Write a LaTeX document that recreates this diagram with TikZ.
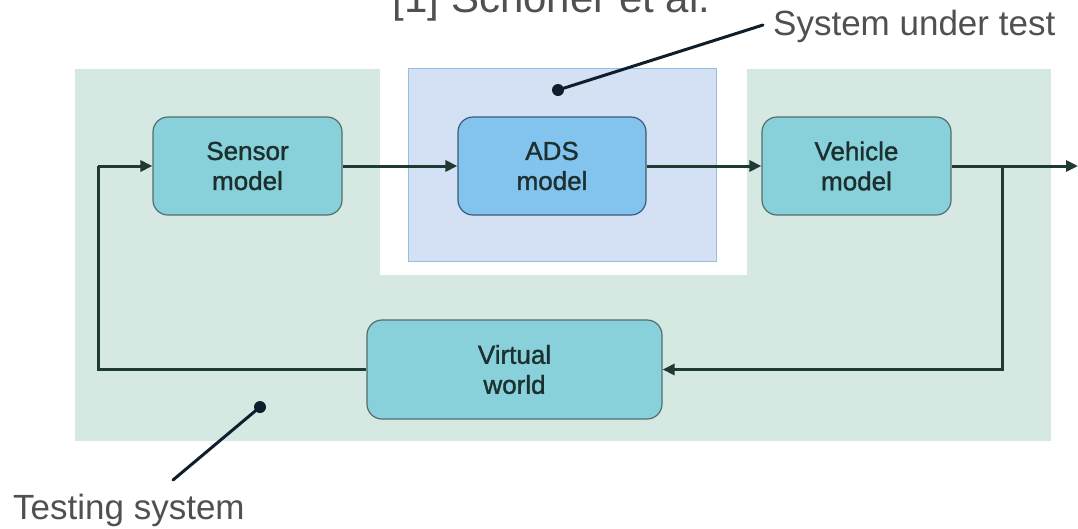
\documentclass[tikz,border=0pt]{standalone}
\usepackage{fontspec}
\setmainfont{Liberation Sans}
\newfontfamily\blockfont[FakeBold=1.3]{Liberation Sans}
\usetikzlibrary{arrows.meta}

\definecolor{testbg}{RGB}{214,232,226}
\definecolor{sutfill}{RGB}{212,225,245}
\definecolor{sutline}{RGB}{150,190,222}
\definecolor{blockfill}{RGB}{136,208,218}
\definecolor{blockline}{RGB}{80,110,108}
\definecolor{adsfill}{RGB}{130,196,238}
\definecolor{adsline}{RGB}{60,90,120}
\definecolor{flow}{RGB}{30,58,50}
\definecolor{callout}{RGB}{15,30,45}
\definecolor{labelgray}{RGB}{80,80,80}
\definecolor{blocktext}{RGB}{28,48,48}

\tikzset{
  block/.style={draw=blockline, line width=1.2pt, fill=blockfill, rounded corners=15pt,
    align=center, text=blocktext, font=\blockfont\fontsize{26}{30}\selectfont,
    minimum height=98pt, inner sep=0pt},
  adsblock/.style={block, draw=adsline, fill=adsfill},
  flowline/.style={draw=flow, line width=3pt, -{Triangle[length=12pt,width=11pt]}},
  plainflow/.style={draw=flow, line width=3pt},
  pointer/.style={draw=callout, line width=3pt, line cap=round},
  pin/.style={fill=callout, circle, inner sep=0pt, minimum size=12pt},
  caption/.style={text=labelgray, inner sep=0pt, font=\fontsize{35}{40}\selectfont},
}

\begin{document}
\begin{tikzpicture}[x=1pt, y=-1pt]
  \useasboundingbox (0,0) rectangle (1078,528);

  % testing system area with the gap around the system under test
  \fill[testbg] (75,69) rectangle (1051,441);
  \fill[white] (380,69) rectangle (747,275);
  \filldraw[fill=sutfill, draw=sutline, line width=1pt] (408,68) rectangle (716,261);

  % blocks
  \node[block, minimum width=189pt] (sensor) at (247.5,166) {Sensor\\model};
  \node[adsblock, minimum width=188pt] (ads) at (552,166) {ADS\\model};
  \node[block, minimum width=189pt] (vehicle) at (856.5,166) {Vehicle\\model};
  \node[block, minimum width=295pt, minimum height=99pt] (world) at (514.5,369.5) {Virtual\\world};

  % loop geometry
  \coordinate (out) at (1078,166);
  \coordinate (split) at (1002,166);
  \coordinate (back) at (98,166);

  \draw[flowline] (sensor.east) -- (ads.west);
  \draw[flowline] (ads.east) -- (vehicle.west);
  \draw[flowline] (vehicle.east) -- (out);
  \draw[flowline] (split) |- (world.east);
  \draw[plainflow] (world.west) -| (back);
  \draw[flowline] (back) -- (sensor.west);

  % reference and callouts
  \node[anchor=base, text=labelgray, inner sep=0pt, font=\fontsize{42}{46}\selectfont]
    (ref) at (551.5,12) {[1] Schöner et al.};

  \node[pin] (sutpin) at (558,90) {};
  \node[caption, anchor=base west] (sutlabel) at (773,35) {System under test};
  \coordinate (sutend) at (763,25);
  \draw[pointer] (sutpin.center) -- (sutend);

  \node[pin] (tspin) at (260,407) {};
  \node[caption, anchor=base west] (tslabel) at (13,519) {Testing system};
  \coordinate (tsend) at (173,480);
  \draw[pointer] (tspin.center) -- (tsend);
\end{tikzpicture}
\end{document}
